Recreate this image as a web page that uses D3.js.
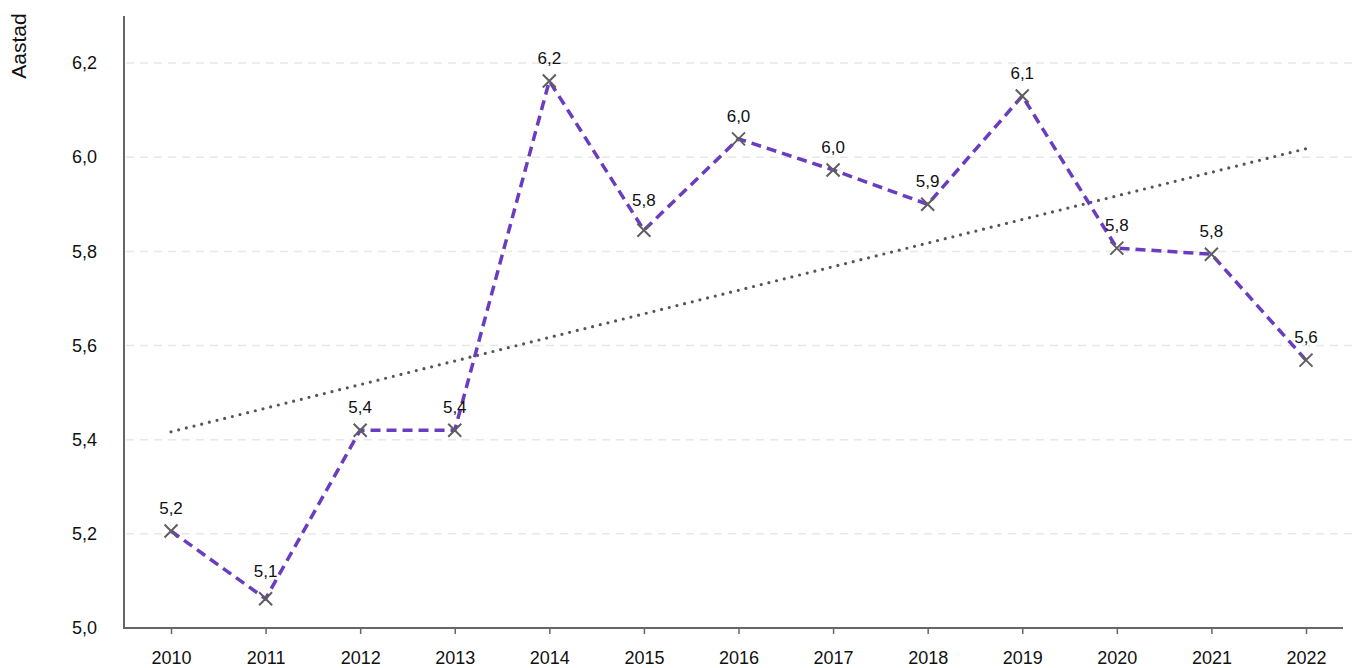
<!DOCTYPE html>
<html>
<head>
<meta charset="utf-8">
<script src="https://cdn.jsdelivr.net/npm/d3@7/dist/d3.min.js"></script>
<style>
  html, body { margin: 0; padding: 0; background: #fff; }
  svg { display: block; font-family: "Liberation Sans", Arial, Helvetica, sans-serif; }
</style>
</head>
<body>
<svg id="chart" width="1360" height="668"></svg>
<script>
// Yearly values
const years = ["2010","2011","2012","2013","2014","2015","2016","2017","2018","2019","2020","2021","2022"];
const values = [5.206, 5.062, 5.42, 5.42, 6.162, 5.845, 6.039, 5.973, 5.90, 6.13, 5.807, 5.794, 5.569];
const yTicks = [5.0, 5.2, 5.4, 5.6, 5.8, 6.0, 6.2];
const yTitle = "Aastad";

// extra lift for labels that would otherwise sit on the line
const labelLift = { "2011": 5, "2015": 7 };

const svg = d3.select("#chart");
const fmt = v => d3.format(".1f")(v).replace(".", ",");

const x = d3.scalePoint().domain(years).range([171, 1306]);
const y = d3.scaleLinear().domain([5.0, 6.3]).range([628, 16]);

const axisLeft = 124, axisRight = 1343;

// horizontal grid lines
svg.append("g").selectAll("line")
  .data(yTicks.filter(t => t > 5.0))
  .join("line")
  .attr("x1", axisLeft + 2).attr("x2", 1356)
  .attr("y1", d => y(d)).attr("y2", d => y(d))
  .attr("stroke", "#e8e8e8").attr("stroke-width", 1.5)
  .attr("stroke-dasharray", "8,6");

// y axis
const yAxis = d3.axisLeft(y).tickValues(yTicks).tickSize(0).tickPadding(27).tickFormat(fmt);
const gy = svg.append("g").attr("transform", `translate(${axisLeft},0)`).call(yAxis);
gy.select(".domain").remove();
gy.selectAll("text").attr("font-size", 18).attr("fill", "#111");
svg.append("line").attr("x1", axisLeft).attr("x2", axisLeft)
  .attr("y1", y(6.3)).attr("y2", y(5.0) + 1)
  .attr("stroke", "#666").attr("stroke-width", 2);

// x axis
const xAxis = d3.axisBottom(x).tickSize(6).tickPadding(17);
const gx = svg.append("g").attr("transform", `translate(0,${y(5.0)})`).call(xAxis);
gx.select(".domain").remove();
gx.selectAll(".tick line").attr("stroke", "#666").attr("stroke-width", 1.5);
gx.selectAll("text").attr("font-size", 18).attr("fill", "#111");
svg.append("line").attr("x1", axisLeft - 1).attr("x2", axisRight)
  .attr("y1", y(5.0)).attr("y2", y(5.0))
  .attr("stroke", "#666").attr("stroke-width", 2);

// y title
svg.append("text")
  .attr("transform", `translate(26,46) rotate(-90)`)
  .attr("text-anchor", "middle")
  .attr("font-size", 21).attr("fill", "#111")
  .text(yTitle);

// linear trend (least squares)
const n = values.length;
const idx = d3.range(n);
const mx = d3.mean(idx), my = d3.mean(values);
const slope = d3.sum(idx, i => (i - mx) * (values[i] - my)) / d3.sum(idx, i => (i - mx) ** 2);
const trendAt = i => my + slope * (i - mx);
svg.append("line")
  .attr("x1", x(years[0])).attr("y1", y(trendAt(0)))
  .attr("x2", x(years[n - 1])).attr("y2", y(trendAt(n - 1)))
  .attr("stroke", "#555").attr("stroke-width", 3.2)
  .attr("stroke-linecap", "round").attr("stroke-dasharray", "0,7.9");

// series line
const line = d3.line().x((d, i) => x(years[i])).y(d => y(d));
svg.append("path").datum(values)
  .attr("d", line)
  .attr("fill", "none")
  .attr("stroke", "#6a3cc0").attr("stroke-width", 3.5)
  .attr("stroke-dasharray", "10,6");

// X markers
const s = 6.5;
const markers = svg.append("g").selectAll("g").data(values).join("g")
  .attr("transform", (d, i) => `translate(${x(years[i])},${y(d)})`);
markers.append("path")
  .attr("d", `M${-s},${-s}L${s},${s}M${-s},${s}L${s},${-s}`)
  .attr("stroke", "#5f5f5f").attr("stroke-width", 2).attr("fill", "none");

// value labels
svg.append("g").selectAll("text").data(values).join("text")
  .attr("x", (d, i) => x(years[i]))
  .attr("y", (d, i) => y(d) - 17 - (labelLift[years[i]] || 0))
  .attr("text-anchor", "middle")
  .attr("font-size", 17).attr("fill", "#111")
  .text(d => fmt(d));
</script>
</body>
</html>
